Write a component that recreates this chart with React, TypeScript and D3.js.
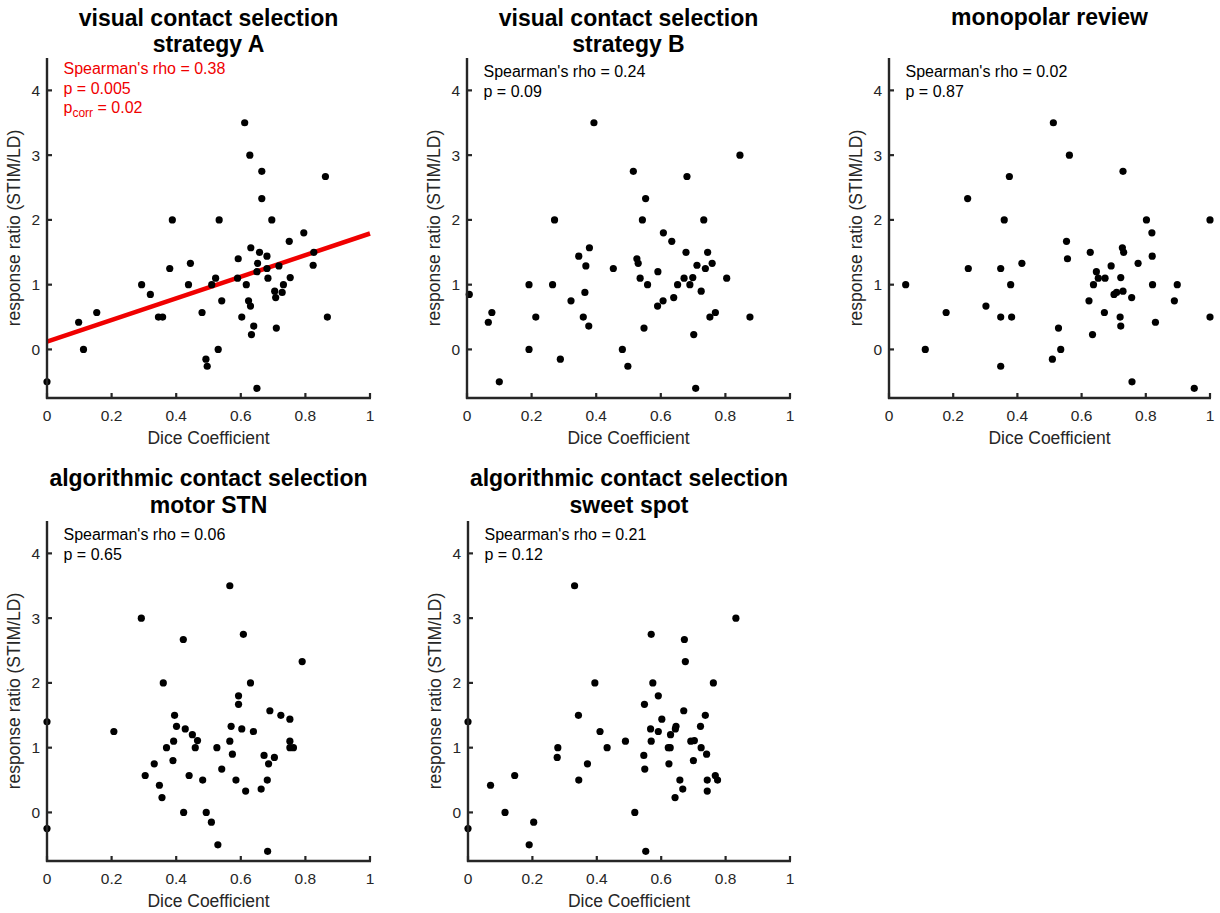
import React from "react";
import * as d3 from "d3";

// ---------- data ----------
const xTicks = [0, 0.2, 0.4, 0.6, 0.8, 1];
const yTicks = [0, 1, 2, 3, 4];
const xDomain: [number, number] = [0, 1];
const yDomain: [number, number] = [-0.75, 4.5];

const xLabel = "Dice Coefficient";
const yLabel = "response ratio (STIM/LD)";

const titleA = ["visual contact selection", "strategy A"];
const titleB = ["visual contact selection", "strategy B"];
const titleMono = ["monopolar review"];
const titleMotor = ["algorithmic contact selection", "motor STN"];
const titleSweet = ["algorithmic contact selection", "sweet spot"];

const statsA = ["Spearman's rho = 0.38", "p = 0.005"];
const corrA = "0.02";
const statsB = ["Spearman's rho = 0.24", "p = 0.09"];
const statsMono = ["Spearman's rho = 0.02", "p = 0.87"];
const statsMotor = ["Spearman's rho = 0.06", "p = 0.65"];
const statsSweet = ["Spearman's rho = 0.21", "p = 0.12"];

const fitA: [number, number][] = [[0, 0.12], [1, 1.79]];

const pointsA: [number, number][] = [
  [0.0, -0.5], [0.098, 0.42], [0.113, 0], [0.154, 0.57], [0.293, 1.0], [0.32, 0.85],
  [0.345, 0.5], [0.358, 0.5], [0.38, 1.25], [0.388, 2.0], [0.438, 1.0], [0.444, 1.33],
  [0.48, 0.57], [0.492, -0.15], [0.496, -0.26], [0.51, 1.0], [0.522, 1.1], [0.53, 0],
  [0.533, 2.0], [0.541, 0.75], [0.592, 1.4], [0.59, 1.1], [0.603, 0.5], [0.612, 3.5],
  [0.617, 1.0], [0.624, 0.75], [0.628, 3.0], [0.63, 0.67], [0.631, 1.57], [0.633, 0.23],
  [0.64, 0.36], [0.65, -0.6], [0.652, 1.33], [0.65, 1.2], [0.658, 1.5], [0.665, 2.75],
  [0.665, 2.33], [0.681, 1.44], [0.681, 1.25], [0.684, 1.1], [0.696, 2.0], [0.705, 0.9],
  [0.708, 0.8], [0.71, 0.33], [0.718, 1.29], [0.728, 0.88], [0.732, 1.0], [0.75, 1.67],
  [0.753, 1.11], [0.795, 1.8], [0.824, 1.3], [0.826, 1.5], [0.862, 2.67], [0.868, 0.5],
];

const pointsB: [number, number][] = [
  [0.007, 0.85], [0.066, 0.42], [0.077, 0.57], [0.1, -0.5], [0.192, 1.0], [0.192, 0],
  [0.213, 0.5], [0.265, 1.0], [0.271, 2.0], [0.289, -0.15], [0.322, 0.75], [0.346, 1.44],
  [0.36, 0.5], [0.365, 0.88], [0.368, 1.29], [0.377, 0.36], [0.379, 1.57], [0.393, 3.5],
  [0.453, 1.25], [0.481, 0], [0.498, -0.26], [0.515, 2.75], [0.526, 1.4], [0.53, 1.33],
  [0.536, 1.1], [0.543, 2.0], [0.548, 0.33], [0.553, 2.33], [0.559, 1.0], [0.59, 0.67],
  [0.591, 1.2], [0.607, 0.75], [0.608, 1.8], [0.634, 1.67], [0.64, 0.8], [0.652, 1.0],
  [0.672, 1.1], [0.678, 1.5], [0.681, 2.67], [0.69, 1.0], [0.699, 1.11], [0.702, 0.23],
  [0.708, -0.6], [0.712, 1.3], [0.725, 0.9], [0.733, 2.0], [0.738, 1.25], [0.745, 1.5],
  [0.752, 0.5], [0.759, 1.33], [0.769, 0.57], [0.804, 1.1], [0.845, 3.0], [0.876, 0.5],
];

const pointsMono: [number, number][] = [
  [0.052, 1.0], [0.113, 0], [0.178, 0.57], [0.245, 2.33], [0.247, 1.25], [0.302, 0.67],
  [0.348, 1.25], [0.348, 0.5], [0.348, -0.26], [0.359, 2.0], [0.375, 2.67], [0.379, 1.0],
  [0.382, 0.5], [0.414, 1.33], [0.509, -0.15], [0.512, 3.5], [0.528, 0.33], [0.535, 0],
  [0.553, 1.67], [0.556, 1.4], [0.562, 3.0], [0.623, 0.75], [0.627, 1.5], [0.634, 0.23],
  [0.637, 1.0], [0.646, 1.2], [0.652, 1.1], [0.671, 0.57], [0.673, 1.1], [0.692, 1.29],
  [0.701, 0.85], [0.709, 0.88], [0.72, 0.5], [0.722, 0.36], [0.722, 1.11], [0.727, 1.57],
  [0.729, 2.75], [0.731, 1.5], [0.729, 0.9], [0.756, 0.8], [0.757, -0.5], [0.776, 1.33],
  [0.802, 2.0], [0.819, 1.8], [0.82, 1.44], [0.821, 1.0], [0.83, 0.42], [0.889, 0.75],
  [0.898, 1.0], [0.951, -0.6], [1.0, 2.0], [1.0, 0.5],
];

const pointsMotor: [number, number][] = [
  [0, 1.4], [0, -0.25], [0.207, 1.25], [0.292, 3.0], [0.304, 0.57], [0.332, 0.75],
  [0.348, 0.42], [0.356, 0.23], [0.36, 2.0], [0.37, 1.0], [0.39, 0.8], [0.392, 1.1],
  [0.395, 1.5], [0.401, 1.33], [0.422, 2.67], [0.423, 0], [0.428, 1.29], [0.44, 0.57],
  [0.45, 1.2], [0.459, 1.0], [0.466, 1.11], [0.482, 0.5], [0.493, 0], [0.509, -0.15],
  [0.526, 1.0], [0.529, -0.5], [0.541, 0.67], [0.566, 3.5], [0.566, 1.1], [0.57, 1.33],
  [0.574, 0.9], [0.585, 0.5], [0.593, 1.8], [0.593, 1.67], [0.603, 1.29], [0.608, 2.75],
  [0.615, 0.33], [0.63, 2.0], [0.639, 1.25], [0.663, 0.36], [0.672, 0.88], [0.682, 0.5],
  [0.683, -0.6], [0.686, 0.75], [0.69, 1.57], [0.704, 0.85], [0.724, 1.5], [0.752, 1.44],
  [0.752, 1.1], [0.752, 1.0], [0.763, 1.0], [0.79, 2.33],
];

const pointsSweet: [number, number][] = [
  [0, 1.4], [0, -0.25], [0.07, 0.42], [0.115, 0], [0.145, 0.57], [0.19, -0.5],
  [0.204, -0.15], [0.277, 0.85], [0.279, 1.0], [0.331, 3.5], [0.343, 1.5], [0.344, 0.5],
  [0.371, 0.75], [0.394, 2.0], [0.41, 1.25], [0.432, 1.0], [0.489, 1.1], [0.518, 0],
  [0.546, 0.88], [0.548, 1.67], [0.549, 0.67], [0.552, -0.6], [0.567, 1.29], [0.569, 1.1],
  [0.569, 2.75], [0.574, 2.0], [0.591, 1.8], [0.591, 1.25], [0.602, 1.44], [0.624, 0.75],
  [0.622, 1.0], [0.628, 1.0], [0.629, 1.2], [0.643, 0.23], [0.644, 1.29], [0.646, 1.33],
  [0.658, 0.5], [0.667, 0.36], [0.67, 1.57], [0.672, 2.67], [0.675, 2.33], [0.692, 1.1],
  [0.703, 1.11], [0.7, 0.8], [0.722, 1.33], [0.724, 1.0], [0.737, 1.5], [0.741, 0.9],
  [0.743, 0.5], [0.743, 0.33], [0.762, 2.0], [0.768, 0.57], [0.775, 0.5], [0.832, 3.0],
];

// ---------- layout ----------
const W = 323;
const H = 340;
const FONT = "'Liberation Sans', Arial, Helvetica, sans-serif";
const AXIS_COLOR = "#262626";
const RED = "#f00000";

type Panel = {
  left: number;
  top: number;
  width: number;
  title: string[];
  stats: string[];
  points: [number, number][];
  fit?: [number, number][];
  corr?: string;
  statsOffset: number;
  titleOffset: number;
};

const panels: Panel[] = [
  { left: 47, top: 58, width: W, title: titleA, stats: statsA, points: pointsA, fit: fitA, corr: corrA, statsOffset: 16, titleOffset: -32.5 },
  { left: 467, top: 58, width: W, title: titleB, stats: statsB, points: pointsB, statsOffset: 19, titleOffset: -32.5 },
  { left: 889, top: 58, width: 321, title: titleMono, stats: statsMono, points: pointsMono, statsOffset: 19, titleOffset: -33.5 },
  { left: 47, top: 521, width: W, title: titleMotor, stats: statsMotor, points: pointsMotor, statsOffset: 19, titleOffset: -35 },
  { left: 468, top: 521, width: 322, title: titleSweet, stats: statsSweet, points: pointsSweet, statsOffset: 19, titleOffset: -35 },
];

function PanelView({ p }: { p: Panel }) {
  const x = d3.scaleLinear().domain(xDomain).range([0, p.width]);
  const y = d3.scaleLinear().domain(yDomain).range([H, 0]);
  const line = d3
    .line<[number, number]>()
    .x((d) => x(d[0]))
    .y((d) => y(d[1]));
  const red = !!p.fit;
  const statColor = red ? RED : "#000";
  return (
    <g transform={`translate(${p.left},${p.top})`}>
      {/* title */}
      {p.title.map((t, i) => (
        <text
          key={i}
          x={p.width / 2}
          y={p.titleOffset + i * 26.5}
          textAnchor="middle"
          fontFamily={FONT}
          fontWeight="bold"
          fontSize={23}
          fill="#000"
        >
          {t}
        </text>
      ))}
      {/* fit line */}
      {p.fit && (
        <path d={line(p.fit) || ""} stroke={RED} strokeWidth={4.5} fill="none" />
      )}
      {/* points */}
      {p.points.map((d, i) => (
        <circle key={i} cx={x(d[0])} cy={y(d[1])} r={3.6} fill="#000" />
      ))}
      {/* axes */}
      <line x1={0} x2={0} y1={0} y2={H + 1} stroke={AXIS_COLOR} strokeWidth={2.4} />
      <line x1={-1} x2={p.width + 1} y1={H} y2={H} stroke={AXIS_COLOR} strokeWidth={2.4} />
      {xTicks.map((t) => (
        <g key={"x" + t}>
          <line x1={x(t)} x2={x(t)} y1={H} y2={H - 5} stroke={AXIS_COLOR} strokeWidth={2.2} />
          <text
            x={x(t)}
            y={H + 23}
            textAnchor="middle"
            fontFamily={FONT}
            fontSize={15.5}
            fill={AXIS_COLOR}
          >
            {d3.format("~g")(t)}
          </text>
        </g>
      ))}
      {yTicks.map((t) => (
        <g key={"y" + t}>
          <line x1={0} x2={5} y1={y(t)} y2={y(t)} stroke={AXIS_COLOR} strokeWidth={2.2} />
          <text
            x={-7}
            y={y(t)}
            dy="0.36em"
            textAnchor="end"
            fontFamily={FONT}
            fontSize={15.5}
            fill={AXIS_COLOR}
          >
            {d3.format("~g")(t)}
          </text>
        </g>
      ))}
      {/* axis labels */}
      <text
        x={p.width / 2}
        y={H + 46}
        textAnchor="middle"
        fontFamily={FONT}
        fontSize={17.5}
        fill={AXIS_COLOR}
      >
        {xLabel}
      </text>
      <text
        transform={`translate(${-27},${H / 2}) rotate(-90)`}
        textAnchor="middle"
        fontFamily={FONT}
        fontSize={17.5}
        fill={AXIS_COLOR}
      >
        {yLabel}
      </text>
      {/* stats */}
      {p.stats.map((s, i) => (
        <text
          key={"s" + i}
          x={16.5}
          y={p.statsOffset + i * 19.5}
          fontFamily={FONT}
          fontSize={16}
          fill={statColor}
        >
          {s}
        </text>
      ))}
      {p.corr && (
        <text x={16.5} y={p.statsOffset + 2 * 19.5} fontFamily={FONT} fontSize={16} fill={statColor}>
          <tspan>p</tspan>
          <tspan dy={4} fontSize={12}>corr</tspan>
          <tspan dy={-4}>{` = ${p.corr}`}</tspan>
        </text>
      )}
    </g>
  );
}

export default function App() {
  return (
    <svg
      width={1220}
      height={913}
      viewBox="0 0 1220 913"
      style={{ position: "absolute", left: 0, top: 0, background: "#fff" }}
    >
      <rect width={1220} height={913} fill="#fff" />
      {panels.map((p, i) => (
        <PanelView key={i} p={p} />
      ))}
    </svg>
  );
}
